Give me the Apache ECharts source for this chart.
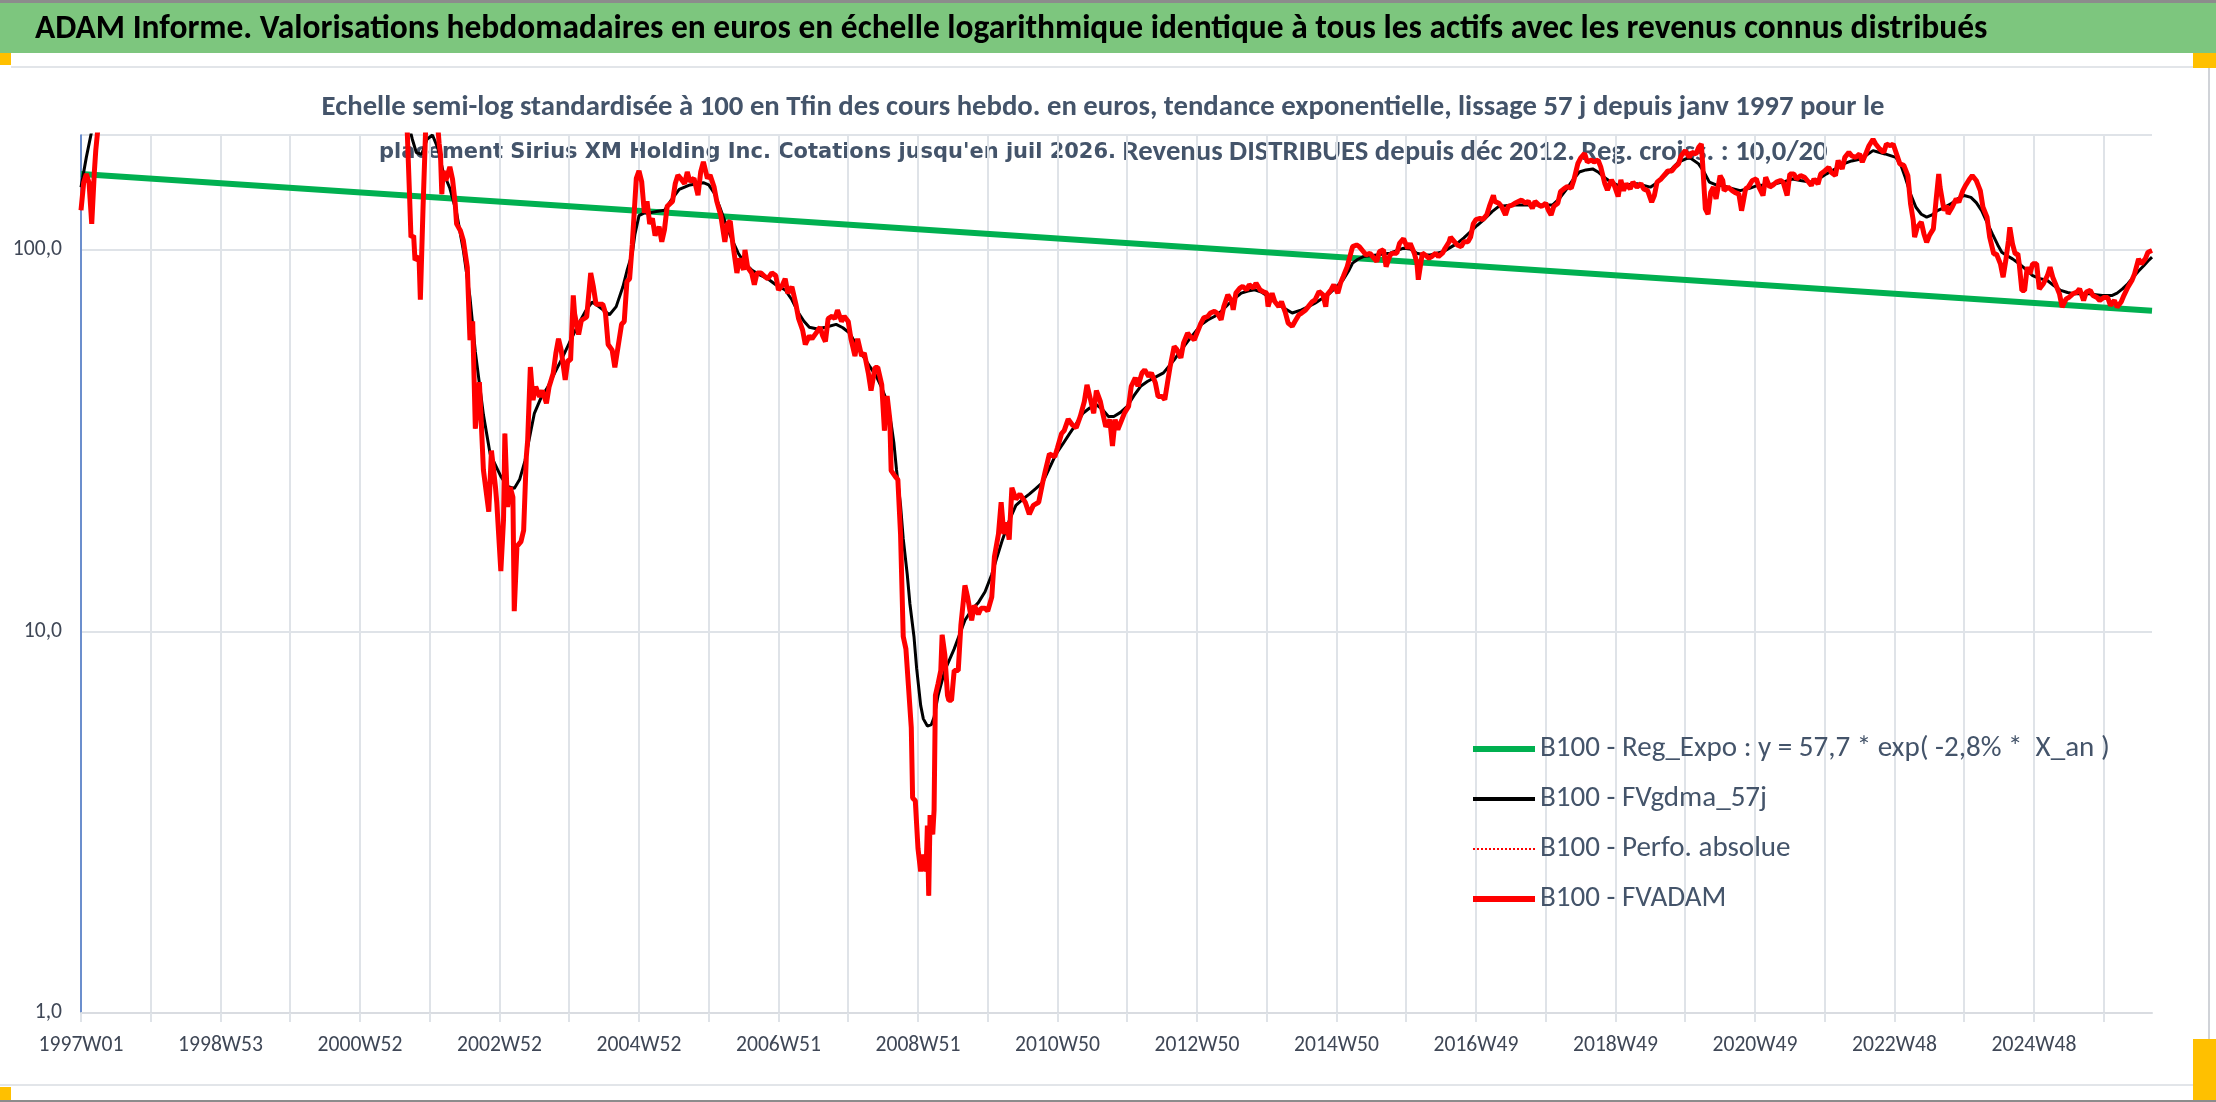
<!DOCTYPE html>
<html>
<head>
<meta charset="utf-8">
<script src="https://cdn.jsdelivr.net/npm/echarts@6/dist/echarts.min.js"></script>
<style>
html,body{margin:0;padding:0;background:#fff;}
#chart{width:2216px;height:1102px;}
</style>
</head>
<body>
<div id="chart"></div>
<script>
// ---------- DATA ----------
const titleText = "ADAM Informe. Valorisations hebdomadaires en euros en échelle logarithmique identique à tous les actifs avec les revenus connus distribués";
const subLine1 = "Echelle semi-log standardisée à 100 en Tfin des cours hebdo. en euros, tendance exponentielle, lissage 57 j depuis janv 1997 pour le";
const subLine2a = "placement Sirius XM Holding Inc. Cotations jusqu'en juil 2026.";
const subLine2b = " Revenus DISTRIBUES depuis déc 2012. Reg. croiss. : 10,0/20";
const seriesNames = [
  "B100 - Reg_Expo : y = 57,7 * exp( -2,8% *  X_an )",
  "B100 - FVgdma_57j",
  "B100 - Perfo. absolue",
  "B100 - FVADAM"
];

// weekly categories 1997W01 ... juil 2026
const categories = [];
(function(){
  let t = Date.UTC(1997,0,2);
  for (let i = 0; i < 1545; i++) {
    const d = new Date(t);
    const y = d.getUTCFullYear();
    const doy = Math.round((t - Date.UTC(y,0,1)) / 864e5) + 1;
    const w = Math.ceil(doy / 7);
    categories.push(y + 'W' + (w < 10 ? '0' + w : w));
    t += 7 * 864e5;
  }
})();

// [category index, value]
const regExpo = [[0,158],[1544,69.3]];

const fvgdma = [[0,146],[4,175],[8,205],[15,280],[40,450],[80,700],[120,1200],[160,2000],[200,1300],[230,500],[244,215],[247,195],[250,180],[254,178],[258,195],[262,200],[266,185],[270,160],[275,145],[280,125],[285,100],[290,75],[294,54],[300,37],[305,29.2],[313,25.5],[318,24],[323,23.7],[327,25],[331,28],[335,33],[338,37.3],[343,41],[348,43.7],[353,47.5],[358,51.4],[364,57],[371,64],[376,69],[381,73],[386,71],[394,67.6],[399,71],[404,80],[407,88],[411,98],[413,110],[416,123],[420,125],[424,125],[429,126],[435,127],[440,135],[446,144],[454,148],[464,150],[468,148],[472,141],[476,130],[480,119],[485,107],[490,98],[495,92],[500,88.6],[506,86],[512,84],[518,81],[525,78.5],[530,74],[535,68.3],[539,65],[543,62.7],[549,62],[555,62.7],[563,63.8],[568,62.5],[573,60.5],[578,56.5],[583,52.7],[588,49.5],[593,46.6],[597,43.5],[601,40],[604,35],[606,31.3],[608,26.5],[611,21.4],[613,17.5],[616,14.1],[618,11.8],[621,9.7],[623,8],[626,6.4],[628,5.9],[631,5.65],[634,5.7],[636,5.96],[639,6.8],[644,7.9],[651,9.0],[659,10.7],[664,11.4],[669,11.9],[674,12.7],[679,14.1],[683,15.7],[687,17.4],[692,19.5],[697,21.4],[702,22.2],[707,22.9],[712,23.7],[717,24.6],[722,26.8],[727,29.2],[732,31],[737,33],[742,35],[747,37.3],[752,38.5],[757,39.3],[762,38],[766,36.6],[770,36.6],[775,37.5],[780,38.9],[785,41.5],[790,43.9],[795,45.2],[800,46.2],[807,47.6],[815,51.5],[820,54.5],[825,57.5],[830,60.5],[835,63.6],[840,65.5],[845,66.9],[850,69],[855,71.8],[860,74.5],[865,77],[870,78],[875,78.6],[880,77.5],[885,75.5],[890,73],[895,71],[903,68.3],[910,69.6],[915,71],[920,72.5],[925,74.5],[931,77],[936,80],[941,83.5],[945,88],[948,92.3],[952,94.5],[956,96],[961,96.5],[966,97],[971,97.5],[976,98],[981,99.5],[986,101],[991,100.5],[996,98],[1001,97],[1006,97],[1011,98],[1016,99],[1021,101.5],[1026,104],[1031,107.5],[1036,111.7],[1041,116],[1047,121],[1052,126],[1057,130],[1062,130.5],[1067,131],[1077,131],[1087,131],[1097,131],[1102,136],[1107,143.5],[1112,152],[1117,160],[1122,162],[1127,163],[1131,160],[1135,155.5],[1140,151],[1145,148],[1150,148],[1160,149],[1170,146],[1175,150],[1181,156.5],[1186,163],[1191,169.8],[1199,174.8],[1206,168],[1210,160],[1214,150.5],[1219,148],[1224,147.5],[1230,145],[1237,143],[1244,145],[1250,147.5],[1257,148],[1263,149],[1270,151],[1276,153.4],[1282,152],[1289,150.5],[1295,153],[1301,158],[1308,163],[1314,168],[1320,171],[1327,173],[1331,177],[1336,182],[1341,180],[1345,178.4],[1353,174.8],[1357,166],[1360,155],[1364,140],[1368,129.3],[1372,124],[1376,121.8],[1380,123.5],[1384,126.7],[1389,129],[1394,132],[1399,136],[1404,138.8],[1409,137.3],[1413,133],[1417,126.7],[1421,118],[1425,110.1],[1429,103],[1432,98.6],[1436,96.5],[1440,94.7],[1444,92.5],[1448,90.1],[1452,87.5],[1455,85.6],[1460,84.2],[1466,83.1],[1471,80.5],[1476,78.3],[1481,77.3],[1486,76.7],[1491,76.7],[1497,76.7],[1502,76.3],[1507,75.9],[1514,75.9],[1518,77],[1522,79],[1526,81.5],[1530,84.8],[1534,88],[1538,91],[1541,93.5],[1544,95.7]];

const fvadam = [[0,127],[2,150],[4,158],[6,150],[8,117],[10,161],[11,182],[13,215],[20,320],[35,430],[52,600],[80,750],[110,1100],[140,1600],[165,2600],[190,1500],[215,900],[232,450],[240,280],[243,215],[245,137],[246,108],[248,109],[249,94],[252,96],[253,74],[255,129],[257,210],[260,280],[264,260],[267,190],[268,178],[269,140],[270,161],[272,152],[275,165],[277,153],[279,132],[280,117],[283,112],[285,106],[288,90],[290,58],[292,65],[294,34],[297,45],[298,38],[300,26.5],[304,20.6],[306,29.8],[309,23.9],[310,21.7],[313,14.4],[315,19.6],[316,33],[318,21.2],[320,23.9],[322,22.5],[323,11.3],[325,16.7],[328,17.2],[330,18.4],[332,28.7],[333,31.7],[335,49.3],[337,40.4],[339,43.8],[342,41.2],[344,42.8],[347,39.6],[349,43.8],[352,47.4],[354,53.5],[356,58.5],[358,54.6],[361,45.6],[363,51.4],[365,51.4],[367,76],[368,68],[371,60],[373,65.3],[377,66.7],[380,87],[382,80],[384,72],[387,72],[389,72],[391,68.3],[393,56.5],[396,54.6],[398,49.2],[400,54.6],[403,63.8],[405,64.9],[407,82.6],[409,84],[411,103.5],[414,154],[416,161],[418,151],[420,125],[422,134],[424,117],[426,121],[428,109],[431,115],[433,105],[435,113],[437,130],[441,134],[443,149],[445,157],[447,154],[450,149],[452,160],[454,151],[457,154],[460,139],[462,160],[464,170],[467,154],[469,157],[472,146],[474,134],[477,123],[480,105],[482,117],[484,119],[486,103.5],[489,87],[491,95],[494,88.6],[495,100],[497,90],[500,87],[502,81],[504,87],[507,87],[510,85],[512,84],[515,87],[518,85.6],[520,78.5],[523,81],[525,84],[527,77],[530,80],[533,72],[535,66],[538,61.6],[540,56.5],[543,59.5],[545,58.5],[548,60.5],[551,62.7],[553,59.5],[555,57.5],[557,66],[560,67],[562,66],[564,69.5],[567,64.9],[569,67],[572,64.9],[574,58.5],[577,52.7],[579,58.5],[582,52.7],[584,53.7],[587,47.5],[589,42.8],[592,49.2],[594,49.2],[597,44.3],[599,33.6],[601,41.4],[603,36],[604,26.4],[607,25.5],[609,25],[611,18],[613,9.7],[615,9.0],[617,7.1],[619,5.6],[620,3.66],[622,3.6],[624,2.7],[626,2.35],[628,2.6],[630,2.35],[631,3.1],[632,2.03],[633,3.3],[635,2.94],[636,3.4],[637,6.8],[639,7.3],[641,7.9],[642,9.8],[644,8.7],[646,6.8],[647,6.6],[649,6.6],[651,7.9],[654,7.9],[656,10.4],[659,13.2],[661,12.3],[664,10.7],[666,11.7],[669,11.1],[671,11.5],[674,11.5],[676,11.3],[679,12.3],[681,15.7],[684,18],[686,21.8],[688,18],[690,19.3],[692,17.4],[694,23.8],[697,22.2],[700,22.9],[704,21.8],[707,20.3],[710,21.4],[714,21.8],[717,24.6],[719,26.4],[722,29.2],[726,28.7],[728,30.3],[731,33],[733,33.6],[736,36],[739,34.8],[742,34.2],[745,36.6],[748,40],[750,44.3],[752,41.4],[755,37.3],[757,42.8],[760,40],[762,37],[764,34.4],[767,35.9],[769,30.6],[771,35.9],[773,33.8],[776,35.9],[778,37.4],[781,38.9],[783,43.9],[786,46.2],[788,43.9],[791,47.6],[793,48.5],[796,46.6],[798,47.6],[801,44.8],[803,41.3],[806,41.3],[808,40.5],[810,44.8],[812,49.5],[815,55.8],[817,54.8],[820,52.1],[822,57],[825,60.5],[827,59.3],[830,58.1],[832,60.5],[835,64.3],[837,66.3],[840,66.9],[842,68.3],[845,69],[847,68.3],[850,65.6],[852,71],[855,76.2],[858,73.2],[859,69.6],[861,77],[864,79.4],[866,80.2],[869,78.6],[871,81],[874,79.4],[876,81.8],[879,78.6],[881,77.8],[884,77],[885,71],[888,77],[890,73.2],[893,71],[895,73.2],[898,68.3],[900,64.3],[903,63],[905,64.9],[908,67.6],[910,68.3],[913,69.6],[915,71],[918,73.2],[920,73.9],[923,77.8],[926,76.2],[928,71],[929,76.2],[932,78.6],[934,81],[937,77],[939,81.8],[941,85.1],[944,90.4],[946,96],[948,102],[951,103],[953,102],[956,99],[958,97],[961,98],[963,96],[966,93.2],[968,99],[971,100],[973,90.4],[976,97],[978,98],[981,98],[983,104],[986,107],[989,101],[991,104],[994,98],[996,92.3],[997,83.5],[1000,98],[1002,97],[1005,95.1],[1007,96],[1010,98],[1012,96],[1015,98],[1017,101],[1020,105],[1021,108],[1024,105],[1026,103],[1029,102],[1031,105],[1034,105],[1036,108],[1038,117],[1040,120],[1043,121],[1045,120],[1048,123.5],[1050,130],[1053,139],[1054,134],[1057,132.5],[1059,130],[1062,123.5],[1064,130],[1067,131],[1069,132.5],[1072,134],[1074,135],[1077,132.5],[1079,134],[1082,128.5],[1084,134],[1087,131],[1089,130],[1092,132.5],[1094,127],[1096,123.5],[1098,130],[1101,132.5],[1103,142],[1106,145],[1108,146.5],[1111,145],[1113,152.5],[1116,168.5],[1118,174],[1121,179],[1123,170],[1126,172],[1128,170],[1131,172],[1133,165],[1136,149.5],[1138,143.5],[1141,152.5],[1143,148],[1146,138],[1148,152.5],[1150,143],[1152,149],[1155,144.5],[1157,150.5],[1160,146],[1163,149],[1165,144.5],[1168,143],[1171,133.4],[1173,138.8],[1175,150.5],[1178,153.4],[1181,158],[1183,161],[1186,161],[1188,164.5],[1191,168],[1193,176.5],[1196,182],[1199,174.8],[1201,180],[1204,178.4],[1206,185.6],[1208,189.4],[1209,168],[1211,128],[1213,124],[1215,141.5],[1217,146],[1219,136],[1222,156.5],[1224,152],[1225,143],[1228,146],[1231,143],[1233,141.5],[1236,140],[1238,126.7],[1239,132],[1241,144.5],[1243,146],[1246,152],[1249,153.4],[1251,146],[1254,138.8],[1256,155],[1259,146],[1261,147.5],[1264,150.5],[1267,152],[1269,150.5],[1272,138.8],[1274,158],[1277,158],[1279,153.4],[1282,156.5],[1285,155],[1287,152],[1290,147.5],[1292,153.4],[1295,148.8],[1297,158],[1300,161],[1303,164.5],[1305,159.5],[1308,156.5],[1310,171.5],[1313,163],[1315,174.8],[1318,180],[1320,176.5],[1323,174.8],[1326,178.4],[1328,169.8],[1331,180],[1333,187.5],[1336,195],[1338,189.4],[1341,183.8],[1344,180],[1346,189.4],[1349,187.5],[1351,189.4],[1354,176.5],[1356,168],[1359,166.5],[1362,156.5],[1364,132],[1366,119.5],[1367,108],[1369,114.6],[1372,118.2],[1374,110.1],[1376,104.7],[1378,109],[1381,113.5],[1383,134.6],[1385,158],[1386,146],[1389,126.7],[1391,130.6],[1392,124.2],[1395,129.3],[1398,136],[1400,133.4],[1403,143],[1405,147.5],[1408,153.4],[1410,156.5],[1413,152],[1416,143],[1418,129.3],[1421,121.8],[1423,108],[1426,97.6],[1428,97.6],[1431,91.9],[1433,84.8],[1435,93.8],[1437,105.8],[1438,114.6],[1440,103.7],[1442,97.6],[1444,97.6],[1445,91.9],[1447,78.3],[1449,78.3],[1451,90.1],[1453,86.5],[1455,91.9],[1458,91.9],[1460,79],[1463,81.5],[1466,85.6],[1468,90.1],[1470,84.8],[1472,81.5],[1475,76.7],[1477,70.8],[1480,74.4],[1482,75],[1485,76.7],[1488,77.5],[1490,79],[1493,73.7],[1495,77.5],[1498,78.3],[1500,75.9],[1503,75],[1505,73.7],[1508,75],[1511,75],[1513,71.5],[1516,73.7],[1518,70.8],[1521,73],[1523,75.9],[1526,79.8],[1529,83.1],[1531,86.5],[1534,94.7],[1536,91.9],[1539,94.7],[1541,98.6],[1544,99.6]];

const perfoAbsolue = fvadam;

// ---------- FONTS / FITTING ----------
const CAL = "Carlito, Lato, 'Liberation Sans', sans-serif";
const WIDE = "'DejaVu Sans', Verdana, sans-serif";
const mctx = document.createElement('canvas').getContext('2d');
function fit(text, weight, family, target) {
  mctx.font = weight + ' 100px ' + family;
  return 100 * target / mctx.measureText(text).width;
}
const fsTitle = fit(titleText, 'bold', CAL, 1953);
const fsSub1 = fit(subLine1, 'bold', CAL, 1563);
const fsSub2a = fit(subLine2a, 'bold', WIDE, 737);
const fsSub2b = fit(subLine2b, 'bold', CAL, 712);
const fsLegend = fit(seriesNames[0], 'normal', CAL, 570);
const fsAxis = fit('1997W01', 'normal', CAL, 85);

const textColor = '#44546A';
const gridColor = '#DFE3E8';
const orange = '#FFC000';

const legendLine = [
  {color:'#00B050', width:6, type:'solid'},
  {color:'#000000', width:4, type:'solid'},
  {color:'#FF0000', width:2, type:'dotted'},
  {color:'#FF0000', width:6, type:'solid'}
];

const chart = echarts.init(document.getElementById('chart'), null, {renderer: 'canvas'});
chart.setOption({
  animation: false,
  backgroundColor: '#ffffff',
  graphic: [
    {type:'rect', shape:{x:0,y:0,width:2216,height:3}, style:{fill:'#8C8C8C'}, z:-10},
    {type:'rect', shape:{x:0,y:3,width:2216,height:50}, style:{fill:'#7DC67E'}, z:-10},
    {type:'rect', shape:{x:11,y:66,width:2199,height:2}, style:{fill:'#E2E5E9'}, z:-10},
    {type:'rect', shape:{x:2208,y:66,width:2,height:1020}, style:{fill:'#D0D3D8'}, z:-10},
    {type:'rect', shape:{x:0,y:1084,width:2210,height:2}, style:{fill:'#E2E5E9'}, z:-10},
    {type:'rect', shape:{x:0,y:1100,width:2216,height:2}, style:{fill:'#8C8C8C'}, z:-10},
    {type:'rect', shape:{x:0,y:53,width:11,height:12}, style:{fill:orange}, z:-9},
    {type:'rect', shape:{x:2193,y:53,width:23,height:15}, style:{fill:orange}, z:-9},
    {type:'rect', shape:{x:0,y:1087,width:11,height:13}, style:{fill:orange}, z:-9},
    {type:'rect', shape:{x:2193,y:1039,width:23,height:61}, style:{fill:orange}, z:-9},
    {type:'text', x:35, y:30, style:{text:titleText, fill:'#000000',
      font:'bold ' + fsTitle.toFixed(2) + 'px ' + CAL, textAlign:'left', align:'left', textVerticalAlign:'middle', verticalAlign:'middle'}},
    {type:'text', x:1103, y:108, style:{text:subLine1, fill:textColor,
      font:'bold ' + fsSub1.toFixed(2) + 'px ' + CAL, textAlign:'center', align:'center', textVerticalAlign:'middle', verticalAlign:'middle'}},
    {type:'text', x:379, y:153, style:{text:subLine2a, fill:textColor,
      font:'bold ' + fsSub2a.toFixed(2) + 'px ' + WIDE, textAlign:'left', align:'left', textVerticalAlign:'middle', verticalAlign:'middle'}},
    {type:'text', x:1116, y:153, style:{text:subLine2b, fill:textColor,
      font:'bold ' + fsSub2b.toFixed(2) + 'px ' + CAL, textAlign:'left', align:'left', textVerticalAlign:'middle', verticalAlign:'middle'}}
  ],
  legend: {
    data: seriesNames.map(function(n, i){
      return {name: n, itemStyle: {opacity: 0}, lineStyle: legendLine[i]};
    }),
    orient: 'vertical',
    left: 1465,
    top: 729,
    itemWidth: 62,
    itemHeight: 14,
    itemGap: 20,
    selectedMode: false,
    textStyle: {color: textColor, fontFamily: CAL, fontSize: fsLegend, lineHeight: 30}
  },
  grid: {left: 81, right: 64, top: 135, bottom: 89, containLabel: false},
  xAxis: {
    type: 'category',
    data: categories,
    boundaryGap: false,
    axisLine: {show: true, lineStyle: {color: '#D9DCE1', width: 2}},
    axisTick: {show: true, interval: 51, length: 9, lineStyle: {color: gridColor, width: 2}},
    splitLine: {show: true, interval: 51, lineStyle: {color: gridColor, width: 2}},
    axisLabel: {
      interval: function(idx){ return idx % 104 === 0 && idx < 1500; },
      color: '#3F4756', fontFamily: CAL, fontSize: fsAxis, margin: 22, hideOverlap: false
    }
  },
  yAxis: {
    type: 'log',
    logBase: 10,
    min: 1,
    max: 200,
    axisLine: {show: true, lineStyle: {color: '#4472C4', width: 1.5}},
    axisTick: {show: false},
    splitLine: {show: true, lineStyle: {color: gridColor, width: 2}},
    axisLabel: {
      color: '#3F4756', fontFamily: CAL, fontSize: fsAxis, margin: 19, showMaxLabel: false,
      formatter: function(v){ return (Math.abs(v - 200) < 1e-6) ? '' : v.toFixed(1).replace('.', ','); }
    }
  },
  series: [
    {name: seriesNames[0], type: 'line', data: regExpo, symbol: 'none', showSymbol: false, clip: true,
      color: '#00B050', lineStyle: {color: '#00B050', width: 6}, z: 2},
    {name: seriesNames[1], type: 'line', data: fvgdma, symbol: 'none', showSymbol: false, clip: true,
      color: '#000000', lineStyle: {color: '#000000', width: 3}, z: 3},
    {name: seriesNames[2], type: 'line', data: perfoAbsolue, symbol: 'none', showSymbol: false, clip: true,
      color: '#FF0000', lineStyle: {color: '#FF0000', width: 2, type: 'dotted'}, z: 4},
    {name: seriesNames[3], type: 'line', data: fvadam, symbol: 'none', showSymbol: false, clip: true,
      color: '#FF0000', lineStyle: {color: '#FF0000', width: 5}, z: 5}
  ]
});
</script>
</body>
</html>
